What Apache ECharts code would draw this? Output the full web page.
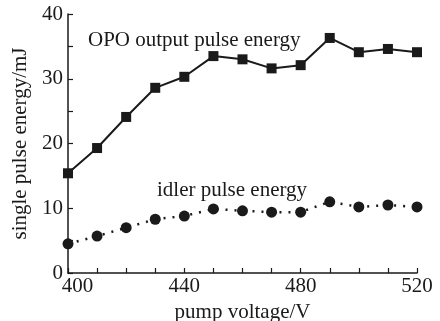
<!DOCTYPE html>
<html><head><meta charset="utf-8">
<script src="https://cdn.jsdelivr.net/npm/echarts@6/dist/echarts.min.js"></script>
<style>html,body{margin:0;padding:0;background:#fff}#c{width:440px;height:321px}</style>
</head><body><div id="c"></div>
<script>
var voltages = [400,410,420,430,440,450,460,470,480,490,500,510,520];
var opoEnergy = [15.4,19.3,24.1,28.6,30.3,33.5,33.0,31.6,32.1,36.3,34.1,34.6,34.1];
var idlerEnergy = [4.5,5.7,7.0,8.3,8.8,9.9,9.6,9.4,9.4,11.0,10.2,10.5,10.2];
var opoLabel = 'OPO output pulse energy';
var idlerLabel = 'idler pulse energy';
var xTitle = 'pump voltage/V';
var yTitle = 'single pulse energy/mJ';

var font = 'Liberation Serif';
var fs = 21;
var ink = '#1a1a1a';
var chart = echarts.init(document.getElementById('c'), null, {renderer:'canvas'});
function pairs(xs, ys){ return xs.map(function(x,i){return [x, ys[i]];}); }
chart.setOption({
  animation:false,
  backgroundColor:'#fff',
  grid:{left:68, top:14, right:23, bottom:48, containLabel:false, outerBoundsMode:'none'},
  xAxis:{type:'value', min:400, max:520, interval:40,
    name:xTitle, nameLocation:'middle', nameGap:22,
    nameTextStyle:{fontFamily:font, fontSize:fs, color:ink},
    axisLine:{lineStyle:{color:ink, width:1.5}},
    axisTick:{inside:true, length:5, lineStyle:{color:ink, width:1.2}},
    minorTick:{show:true, splitNumber:4, length:5, lineStyle:{color:ink, width:1.2}},
    axisLabel:{fontFamily:font, fontSize:fs, color:ink, margin:3,
      formatter:function(v){ return v === voltages[0] ? '{first|' + v + '}' : String(v); },
      rich:{first:{fontFamily:font, fontSize:fs, color:ink, padding:[0,0,0,19]}}},
    splitLine:{show:false}},
  yAxis:{type:'value', min:0, max:40, interval:10,
    name:yTitle, nameLocation:'middle', nameGap:32, nameRotate:90,
    nameTextStyle:{fontFamily:font, fontSize:fs, color:ink},
    axisLine:{show:true, lineStyle:{color:ink, width:1.5}},
    axisTick:{show:true, inside:true, length:5, lineStyle:{color:ink, width:1.2}},
    minorTick:{show:true, splitNumber:2, length:5, lineStyle:{color:ink, width:1.2}},
    axisLabel:{fontFamily:font, fontSize:fs, color:ink, margin:5},
    splitLine:{show:false}},
  series:[
    {type:'line', data:pairs(voltages, opoEnergy), symbol:'rect', symbolSize:10,
      itemStyle:{color:ink}, lineStyle:{color:ink, width:2}},
    {type:'line', data:pairs(voltages, idlerEnergy), symbol:'circle', symbolSize:11,
      itemStyle:{color:ink}, lineStyle:{color:ink, width:2.5, type:[2,7]}}
  ],
  graphic:[
    {type:'text', left:88, top:30, style:{text:opoLabel, font:fs + 'px "Liberation Serif"', fill:ink}},
    {type:'text', left:157, top:180, style:{text:idlerLabel, font:fs + 'px "Liberation Serif"', fill:ink}}
  ]
});
</script></body></html>
